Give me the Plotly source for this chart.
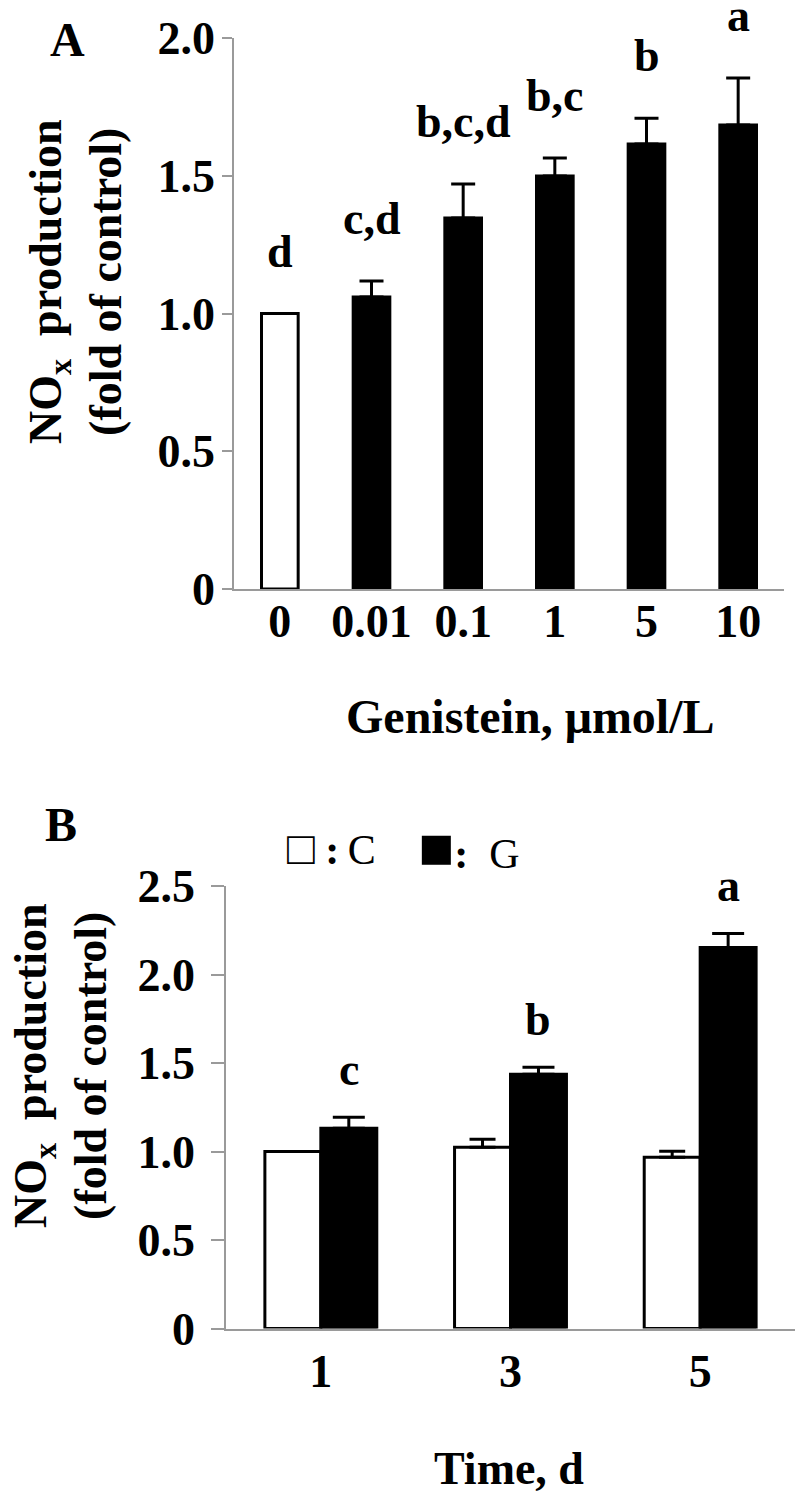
import plotly.graph_objects as go

# ---------------- data ----------------
conc_labels = ["0", "0.01", "0.1", "1", "5", "10"]
nox_a = [1.00, 1.06, 1.347, 1.499, 1.615, 1.684]
err_a = [0.0, 0.058, 0.123, 0.065, 0.094, 0.171]
sig_a = ["d", "c,d", "b,c,d", "b,c", "b", "a"]

days = ["1", "3", "5"]
nox_c = [1.00, 1.024, 0.968]
err_c = [0.0, 0.045, 0.034]
nox_g = [1.131, 1.436, 2.153]
err_g = [0.062, 0.040, 0.079]
sig_g = ["c", "b", "a"]

yticks_a = [0, 0.5, 1.0, 1.5, 2.0]
yticks_a_text = ["0", "0.5", "1.0", "1.5", "2.0"]
yticks_b = [0, 0.5, 1.0, 1.5, 2.0, 2.5]
yticks_b_text = ["0", "0.5", "1.0", "1.5", "2.0", "2.5"]

# ---------------- style ----------------
FONT = "Liberation Serif, Times New Roman, serif"
AX = "#9a9a9a"
W, H = 800, 1500

fig = go.Figure()

bar_colors_a = ["white"] + ["black"] * (len(conc_labels) - 1)
fig.add_trace(go.Bar(
    x=conc_labels, y=nox_a, width=0.4,
    marker=dict(color=bar_colors_a, line=dict(color="black", width=3)),
    error_y=dict(type="data", array=err_a, arrayminus=[0] * len(err_a),
                 symmetric=False, color="black", thickness=3, width=12, visible=True),
    xaxis="x", yaxis="y", showlegend=False,
))

fig.add_trace(go.Bar(
    x=days, y=nox_c, name="C",
    marker=dict(color="white", line=dict(color="black", width=3)),
    error_y=dict(type="data", array=err_c, arrayminus=[0] * len(err_c),
                 symmetric=False, color="black", thickness=3, width=13),
    xaxis="x2", yaxis="y2", showlegend=False,
))
fig.add_trace(go.Bar(
    x=days, y=nox_g, name="G",
    marker=dict(color="black", line=dict(color="black", width=3)),
    error_y=dict(type="data", array=err_g, arrayminus=[0] * len(err_g),
                 symmetric=False, color="black", thickness=3, width=16),
    xaxis="x2", yaxis="y2", showlegend=False,
))

tickfont = dict(family=FONT, size=46, color="black", weight="bold")
BARGAP_B = 0.41

fig.update_layout(
    width=W, height=H,
    margin=dict(l=0, r=0, t=0, b=0, autoexpand=False),
    paper_bgcolor="white", plot_bgcolor="white",
    barmode="group", bargap=BARGAP_B, bargroupgap=0,
    xaxis=dict(domain=[234 / W, 784 / W], anchor="y", type="category",
               range=[-0.5, 5.5], showline=True, linecolor=AX, linewidth=1.5,
               ticks="", showgrid=False, zeroline=False, tickfont=tickfont,
               ticklabelstandoff=-9, automargin=False),
    yaxis=dict(domain=[1 - 589 / H, 1 - 38 / H], anchor="x", range=[0, 2.0],
               tickvals=yticks_a, ticktext=yticks_a_text,
               showline=True, linecolor=AX, linewidth=1.5,
               ticks="outside", ticklen=10, tickcolor=AX, tickwidth=1.5,
               showgrid=False, zeroline=False, tickfont=tickfont,
               ticklabelstandoff=-2, automargin=False),
    xaxis2=dict(domain=[226 / W, 795 / W], anchor="y2", type="category",
                range=[-0.5, 2.5], showline=True, linecolor=AX, linewidth=1.5,
                ticks="", showgrid=False, zeroline=False, tickfont=tickfont,
                ticklabelstandoff=2, automargin=False),
    yaxis2=dict(domain=[1 - 1328.5 / H, 1 - 886 / H], anchor="x2", range=[0, 2.5],
                tickvals=yticks_b, ticktext=yticks_b_text,
                showline=True, linecolor=AX, linewidth=1.5,
                ticks="outside", ticklen=13, tickcolor=AX, tickwidth=1.5,
                showgrid=False, zeroline=False, tickfont=tickfont,
                ticklabelstandoff=7, automargin=False),
)

letter_font = dict(family=FONT, size=46, color="black", weight="bold")
ann = []
for i, (v, e, s) in enumerate(zip(nox_a, err_a, sig_a)):
    ann.append(dict(x=i, y=v + e, xref="x", yref="y", text=s, showarrow=False,
                    yanchor="bottom", yshift=35, font=letter_font))

g_offset = (1 - BARGAP_B) / 4  # centre of the G bar within each group
for i, (v, e, s) in enumerate(zip(nox_g, err_g, sig_g)):
    ann.append(dict(x=i + g_offset, y=v + e, xref="x2", yref="y2", text=s,
                    showarrow=False, yanchor="bottom", yshift=20, font=letter_font))

ytitle = "NO<sub>x</sub>  production<br>(fold of control)"
title_font = dict(family=FONT, size=46, color="black", weight="bold")
ann += [
    dict(x=76 / W, y=1 - 282 / H, xref="paper", yref="paper", text=ytitle,
         textangle=-90, showarrow=False, xanchor="center", yanchor="middle",
         font=title_font),
    dict(x=60 / W, y=1 - 1066 / H, xref="paper", yref="paper", text=ytitle,
         textangle=-90, showarrow=False, xanchor="center", yanchor="middle",
         font=title_font),
    dict(x=530 / W, y=1 - 716 / H, xref="paper", yref="paper",
         text="Genistein, μmol/L", showarrow=False, xanchor="center",
         yanchor="middle", font=dict(family=FONT, size=48, color="black", weight="bold")),
    dict(x=509 / W, y=1 - 1468 / H, xref="paper", yref="paper",
         text="Time, d", showarrow=False, xanchor="center",
         yanchor="middle", font=dict(family=FONT, size=46, color="black", weight="bold")),
    dict(x=67 / W, y=1 - 40 / H, xref="paper", yref="paper", text="A",
         showarrow=False, xanchor="center", yanchor="middle",
         font=dict(family=FONT, size=48, color="black", weight="bold")),
    dict(x=61 / W, y=1 - 824 / H, xref="paper", yref="paper", text="B",
         showarrow=False, xanchor="center", yanchor="middle",
         font=dict(family=FONT, size=48, color="black", weight="bold")),
    dict(x=285 / W, y=1 - 848 / H, xref="paper", yref="paper",
         text="<span style='font-size:46px'>□</span> <b>:</b>\u2009C", showarrow=False,
         xanchor="left", yanchor="middle",
         font=dict(family=FONT, size=42, color="black")),
    dict(x=416 / W, y=1 - 848 / H, xref="paper", yref="paper",
         text="<span style='font-size:60px'>■</span><b>:</b>\u2002G", showarrow=False,
         xanchor="left", yanchor="middle",
         font=dict(family=FONT, size=42, color="black")),
]
fig.update_layout(annotations=ann)

fig.write_html("out.html", config={"displayModeBar": False},
               post_script="document.body.style.margin='0';")
